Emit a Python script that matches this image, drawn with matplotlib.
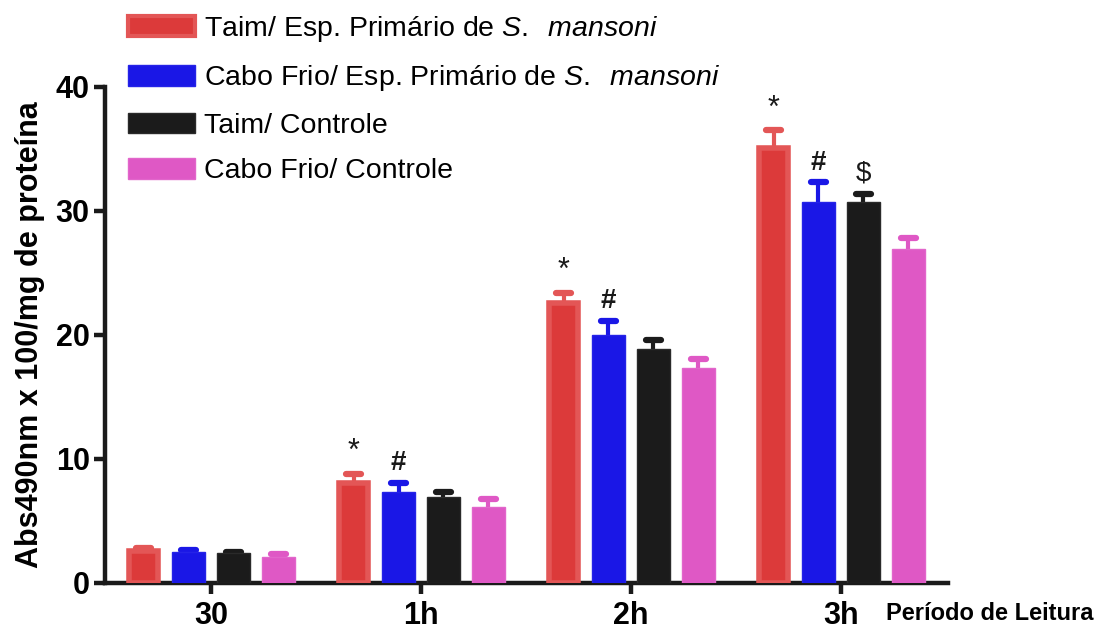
import numpy as np
import matplotlib
matplotlib.use("Agg")
import matplotlib.pyplot as plt
from matplotlib.patches import Patch

plt.rcParams["font.family"] = ["Liberation Sans", "DejaVu Sans"]
plt.rcParams["mathtext.fontset"] = "custom"
plt.rcParams["mathtext.it"] = "Liberation Sans:italic"
plt.rcParams["mathtext.rm"] = "Liberation Sans"

# Reading periods
periods = ["30", "1h", "2h", "3h"]

# Series: mean absorbance and upper error (SEM)
series_names = [
    "Taim/ Esp. Primário de $\\it{S.\\ \\;mansoni}$",
    "Cabo Frio/ Esp. Primário de $\\it{S.\\ \\;mansoni}$",
    "Taim/ Controle",
    "Cabo Frio/ Controle",
]
taim_sm = [2.6, 8.1, 22.6, 35.1]
taim_sm_err = [0.2, 0.7, 0.8, 1.4]
cabo_sm = [2.5, 7.3, 20.0, 30.7]
cabo_sm_err = [0.2, 0.8, 1.1, 1.6]
taim_ctrl = [2.4, 6.9, 18.9, 30.7]
taim_ctrl_err = [0.1, 0.4, 0.7, 0.7]
cabo_ctrl = [2.1, 6.1, 17.3, 26.9]
cabo_ctrl_err = [0.2, 0.7, 0.8, 0.9]

# Significance markers per series (index of period -> symbol)
marks_taim_sm = {1: "*", 2: "*", 3: "*"}
marks_cabo_sm = {1: "#", 2: "#", 3: "#"}
marks_taim_ctrl = {3: "$\\$$"}
marks_cabo_ctrl = {}

values = [taim_sm, cabo_sm, taim_ctrl, cabo_ctrl]
errors = [taim_sm_err, cabo_sm_err, taim_ctrl_err, cabo_ctrl_err]
marks = [marks_taim_sm, marks_cabo_sm, marks_taim_ctrl, marks_cabo_ctrl]
faces = ["#dc3a3a", "#1a17e6", "#1b1b1b", "#df58c5"]
edges = ["#e35656", "#2523e8", "#2a2a2a", "#e266cb"]
edge_widths = [4.0, 1.0, 1.0, 1.0]
bar_widths = [0.140, 0.158, 0.158, 0.158]

fig = plt.figure(figsize=(10.99, 6.30), dpi=100)
ax = fig.add_axes([105 / 1099, 1 - 583 / 630, (948 - 105) / 1099, (583 - 87) / 630])

x = np.arange(len(periods))
step = 0.214
cap_half = 0.036
for i, (vals, errs, fc, ec, mk) in enumerate(zip(values, errors, faces, edges, marks)):
    pos = x + (i - 1.5) * step
    vals = np.asarray(vals)
    tops = vals + np.asarray(errs)
    wc = ec if i == 0 else fc
    # upper-only error whiskers with rounded caps
    ax.vlines(pos, vals, tops, color=wc, linewidth=3, zorder=2)
    ax.hlines(tops, pos - cap_half, pos + cap_half, color=wc,
              linewidth=4.5, capstyle="round", zorder=2)
    ax.bar(pos, vals, width=bar_widths[i], color=fc, edgecolor=ec,
           linewidth=edge_widths[i], zorder=3)
    for k, sym in mk.items():
        ax.annotate(sym, (pos[k], tops[k]), xytext=(0, 5),
                    textcoords="offset points", ha="center", va="bottom",
                    fontsize=22 if sym == "*" else 20, color="#1a1a1a",
                    fontweight="bold" if sym == "#" else "normal")

ax.set_xlim(-0.505, 3.51)
ax.set_ylim(0, 40)
ax.set_yticks([0, 10, 20, 30, 40])
ax.set_xticks(x)
ax.set_xticklabels(periods)
for s in ["top", "right"]:
    ax.spines[s].set_visible(False)
for s in ["left", "bottom"]:
    ax.spines[s].set_linewidth(3.2)
    ax.spines[s].set_color("#1a1a1a")
ax.tick_params(axis="both", width=3.2, length=8, color="#1a1a1a",
               labelsize=22, pad=3)
ax.tick_params(axis="x", pad=5)
for lab in ax.get_xticklabels() + ax.get_yticklabels():
    lab.set_fontweight("bold")

ax.set_ylabel("Abs490nm x 100/mg de proteína", fontsize=22, fontweight="bold",
              labelpad=8)
fig.text(1093 / 1099, 1 - 613 / 630, "Período de Leitura", ha="right",
         va="center", fontsize=17, fontweight="bold")

handles = [Patch(facecolor=fc, edgecolor=ec, linewidth=3 if i == 0 else 1)
           for i, (fc, ec) in enumerate(zip(faces, edges))]
fig.legend(handles, series_names, loc="upper left",
           bbox_to_anchor=(128 / 1099, 1 - 14 / 630), frameon=False,
           fontsize=20.5, handlelength=2.35, handleheight=0.73,
           handletextpad=0.33, labelspacing=0.68, borderpad=0,
           borderaxespad=0)

fig.savefig("out.png", dpi=100)
